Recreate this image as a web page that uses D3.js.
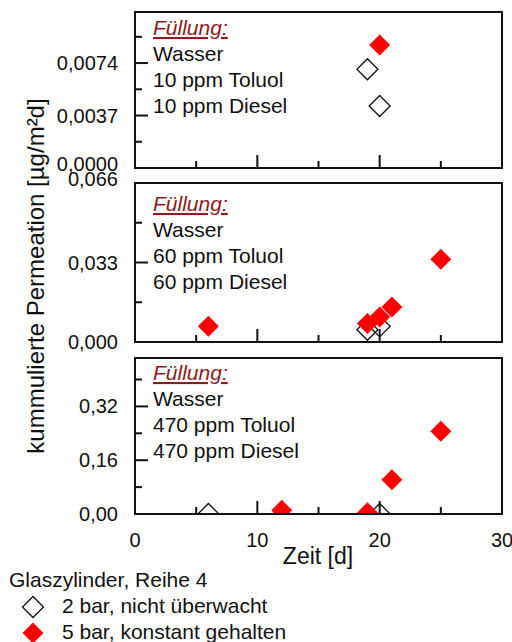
<!DOCTYPE html>
<html><head><meta charset="utf-8">
<script src="https://cdn.jsdelivr.net/npm/d3@7"></script>
<style>body{margin:0;background:#fff}svg{display:block}text{font-family:"Liberation Sans",Arial,sans-serif}</style>
</head><body><svg id="c" width="512" height="642"></svg>
<script>
// ---- data ----
const xTickValues = [0, 10, 20, 30];
const xMinorTicks = [5, 15, 25];
const xDomain = [0, 30];
const fillTitle = "Füllung:";
const fillLines = [
  ["Wasser", "10 ppm Toluol", "10 ppm Diesel"],
  ["Wasser", "60 ppm Toluol", "60 ppm Diesel"],
  ["Wasser", "470 ppm Toluol", "470 ppm Diesel"]
];
const yDomains = [[0, 0.011], [0, 0.066], [0, 0.464]];
const yTickValues = [[0, 0.0037, 0.0074], [0, 0.033, 0.066], [0, 0.16, 0.32]];
const yTickLabels = [["0,0000", "0,0037", "0,0074"], ["0,000", "0,033", "0,066"], ["0,00", "0,16", "0,32"]];
const yMinorTicks = [[0.00185, 0.00555, 0.00925], [0.0165, 0.0495], [0.08, 0.24, 0.40]];
// series: 2 bar, nicht überwacht (open) and 5 bar, konstant gehalten (red)
const open2bar = [
  [{x: 19, y: 0.00696}, {x: 20, y: 0.00437}],
  [{x: 19, y: 0.0051}, {x: 20, y: 0.0065}],
  [{x: 6, y: 0.0}, {x: 20, y: 0.0}]
];
const red5bar = [
  [{x: 20, y: 0.00867}],
  [{x: 6, y: 0.0065}, {x: 19, y: 0.0077}, {x: 20, y: 0.0104}, {x: 21, y: 0.0145}, {x: 25, y: 0.0343}],
  [{x: 12, y: 0.011}, {x: 19, y: 0.004}, {x: 21, y: 0.102}, {x: 25, y: 0.246}]
];
const xTitle = "Zeit [d]";
const yTitle = "kummulierte Permeation [µg/m²d]";
const legendTitle = "Glaszylinder, Reihe 4";
const legendLabels = ["2 bar, nicht überwacht", "5 bar, konstant gehalten"];

// ---- layout ----
const svg = d3.select("#c");
svg.append("rect").attr("width", 512).attr("height", 642).attr("fill", "#fff");
const X0 = 135, X1 = 502;
const panelTop = [12, 183, 358], panelBot = [168, 342, 514];
const textOffset = [23, 28, 22];
const lineGap = 26;
const R = 10.5;
const red = "#ff0000", ink = "#111";
const x = d3.scaleLinear().domain(xDomain).range([X0, X1]);
const diamond = d3.symbol(d3.symbolSquare, 2 * R * R);
// small vertical nudges for crowded tick labels at panel joins
const labelNudge = (i, k) => (i === 0 && k === 0) ? -4 : (i === 1 && k === 2) ? -4 : 0;

panelTop.forEach((top, i) => {
  const bot = panelBot[i];
  const y = d3.scaleLinear().domain(yDomains[i]).range([bot, top]);
  const g = svg.append("g");
  const clipId = "clip" + i;
  svg.append("clipPath").attr("id", clipId).append("rect")
    .attr("x", X0).attr("y", top).attr("width", X1 - X0).attr("height", bot - top);
  const pts = g.append("g").attr("clip-path", `url(#${clipId})`);
  pts.selectAll("path.o").data(open2bar[i]).join("path").attr("class", "o")
    .attr("d", diamond).attr("transform", d => `translate(${x(d.x)},${y(d.y)}) rotate(45)`)
    .attr("fill", "none").attr("stroke", ink).attr("stroke-width", 1.3);
  pts.selectAll("path.r").data(red5bar[i]).join("path").attr("class", "r")
    .attr("d", diamond).attr("transform", d => `translate(${x(d.x)},${y(d.y)}) rotate(45)`)
    .attr("fill", red);
  // ticks
  g.selectAll("line.ym").data(yTickValues[i]).join("line")
    .attr("x1", X0).attr("x2", X0 + 13).attr("y1", d => y(d)).attr("y2", d => y(d))
    .attr("stroke", ink).attr("stroke-width", 2);
  g.selectAll("line.yn").data(yMinorTicks[i]).join("line")
    .attr("x1", X0).attr("x2", X0 + 7).attr("y1", d => y(d)).attr("y2", d => y(d))
    .attr("stroke", ink).attr("stroke-width", 2);
  g.selectAll("line.xm").data(xTickValues).join("line")
    .attr("x1", d => x(d)).attr("x2", d => x(d)).attr("y1", bot).attr("y2", bot - 13)
    .attr("stroke", ink).attr("stroke-width", 2);
  g.selectAll("line.xn").data(xMinorTicks).join("line")
    .attr("x1", d => x(d)).attr("x2", d => x(d)).attr("y1", bot).attr("y2", bot - 7)
    .attr("stroke", ink).attr("stroke-width", 2);
  g.append("rect").attr("x", X0).attr("y", top).attr("width", X1 - X0).attr("height", bot - top)
    .attr("fill", "none").attr("stroke", ink).attr("stroke-width", 2);
  // tick labels
  g.selectAll("text.yl").data(yTickValues[i]).join("text")
    .attr("x", 118).attr("y", (d, k) => y(d) + labelNudge(i, k)).attr("dy", "0.35em")
    .attr("text-anchor", "end").attr("font-size", 20).attr("fill", ink)
    .text((d, k) => yTickLabels[i][k]);
  // fill legend text
  g.append("text").attr("x", 153).attr("y", top + textOffset[i])
    .attr("font-size", 21).attr("font-style", "italic").attr("fill", "#8e1b1b")
    .attr("text-decoration", "underline").text(fillTitle);
  g.selectAll("text.fl").data(fillLines[i]).join("text")
    .attr("x", 153).attr("y", (d, k) => top + textOffset[i] + (k + 1) * lineGap)
    .attr("font-size", 21).attr("fill", ink).text(d => d);
});

// x tick labels
svg.selectAll("text.xl").data(xTickValues).join("text")
  .attr("x", d => x(d)).attr("y", 547).attr("text-anchor", "middle")
  .attr("font-size", 20).attr("fill", ink).text(d => d);
svg.append("text").attr("x", 318).attr("y", 564).attr("text-anchor", "middle")
  .attr("font-size", 23).attr("fill", ink).text(xTitle);
svg.append("text").attr("transform", "translate(44,276) rotate(-90)")
  .attr("text-anchor", "middle").attr("font-size", 24).attr("fill", ink).text(yTitle);

// legend
svg.append("text").attr("x", 9).attr("y", 587).attr("font-size", 21).attr("fill", ink).text(legendTitle);
const leg = svg.selectAll("g.leg").data(legendLabels).join("g")
  .attr("transform", (d, k) => `translate(0,${607 + k * 26})`);
leg.append("path").attr("d", diamond).attr("transform", "translate(33,0) rotate(45)")
  .attr("fill", (d, k) => k === 0 ? "none" : red)
  .attr("stroke", (d, k) => k === 0 ? ink : "none").attr("stroke-width", 1.3);
leg.append("text").attr("x", 62).attr("y", 6).attr("font-size", 21).attr("fill", ink).text(d => d);
</script></body></html>
